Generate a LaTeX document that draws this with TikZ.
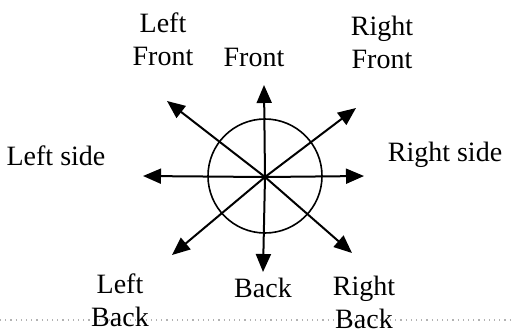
\documentclass[tikz,border=0pt]{standalone}
\usepackage{fontspec}
\setmainfont{Liberation Serif}
\usetikzlibrary{arrows.meta}

\begin{document}
\begin{tikzpicture}[
    x=0.5pt, y=-0.5pt,
    tag/.style={font=\fontsize{14}{16.5}\selectfont, align=center, inner sep=0pt},
    side/.style={font=\fontsize{14}{17}\selectfont, inner sep=0pt},
    arrow/.style={-{Triangle[length=9pt, width=7.5pt]}, line width=1pt}
]
\useasboundingbox (0,0) rectangle (512,333);
\draw[dotted, gray!60, line width=0.6pt] (0,320) -- (512,320);
\node[draw, circle, line width=0.8pt, minimum size=57pt, inner sep=0pt] (ring) at (265,176) {};
\coordinate (c) at (265,177);
\coordinate (f) at (264,85);
\coordinate (b) at (263,272);
\coordinate (l) at (143,176);
\coordinate (r) at (364,176);
\coordinate (lf) at (167,101);
\coordinate (rf) at (356,108);
\coordinate (lb) at (172,255);
\coordinate (rb) at (352,253);
\draw[arrow] (c) -- (f);
\draw[arrow] (c) -- (b);
\draw[arrow] (c) -- (l);
\draw[arrow] (c) -- (r);
\draw[arrow] (c) -- (lf);
\draw[arrow] (c) -- (rf);
\draw[arrow] (c) -- (lb);
\draw[arrow] (c) -- (rb);
\node[tag] (lft) at (163,39) {Left\\Front};
\node[tag] (ft) at (254,57) {Front};
\node[tag] (rft) at (382,42) {Right\\Front};
\node[side] (ls) at (56,156) {Left side};
\node[side] (rs) at (445,155) {Right side};
\node[tag] (lbk) at (120,300) {Left\\Back};
\node[tag] (bk) at (263,288) {Back};
\node[tag] (rbk) at (364,302) {Right\\Back};
\end{tikzpicture}
\end{document}
